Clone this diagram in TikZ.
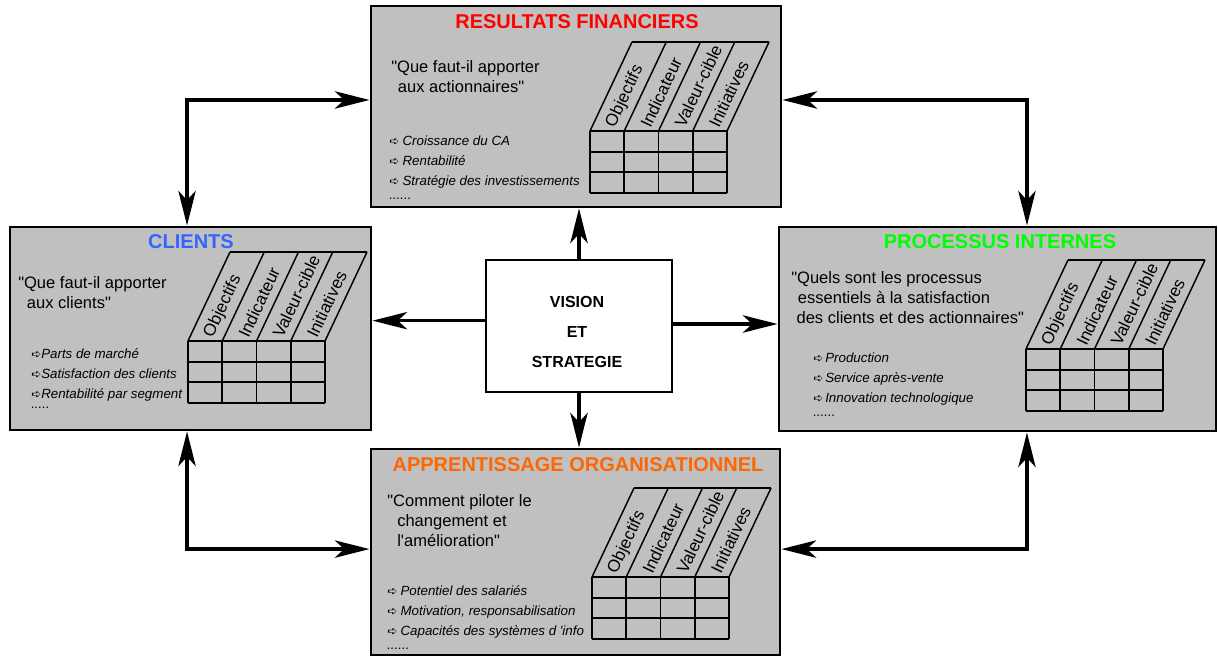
\documentclass[tikz,border=0pt]{standalone}
\usepackage{fontspec}
\setmainfont{Liberation Sans}[Ligatures=TeXOff]
\newfontfamily\symbfont{DejaVu Sans}
\usepackage{tikz}
\usetikzlibrary{arrows.meta,fit}
\definecolor{panel}{HTML}{C0C0C0}
\definecolor{rouge}{HTML}{FF0000}
\definecolor{bleu}{HTML}{3366FF}
\definecolor{vert}{HTML}{00FF00}
\definecolor{orangeapp}{HTML}{FF6600}
\newcommand{\puce}[1][10pt]{\makebox[#1][l]{\upshape\symbfont\fontsize{9}{9}\selectfont ➪}}
\tikzset{
  panel/.style={draw=black, fill=panel, line width=2.2pt, inner sep=0pt},
  vision/.style={draw=black, fill=white, line width=2.2pt, inner sep=0pt},
  titre/.style={font=\bfseries\fontsize{15}{18}\selectfont, inner sep=0pt},
  centre/.style={font=\bfseries\fontsize{12}{22.5}\selectfont, align=center, inner sep=0pt},
  question/.style={font=\fontsize{12.4}{15}\selectfont, align=left, anchor=north west, inner sep=0pt},
  items/.style={font=\itshape\fontsize{10}{15}\selectfont, align=left, anchor=north west, inner sep=0pt},
  entete/.style={font=\fontsize{12.8}{14}\selectfont, rotate=64.7, anchor=west, inner sep=2pt},
  grille/.style={line width=1.4pt},
  biais/.style={line width=1.1pt},
  fleche/.style={line width=2.6pt, -{Stealth[length=26pt,width=13pt,inset=7pt]}},
  liaison/.style={line width=2.6pt, {Stealth[length=26pt,width=13pt,inset=7pt]}-{Stealth[length=26pt,width=13pt,inset=7pt]}}
}
% tableau objectifs / indicateurs, coin haut gauche de la grille en #1,#2
\newcommand{\tableau}[2]{%
  \begin{scope}[shift={(#1,#2)}]
    \foreach \i in {0,...,4}
      \draw[grille] (\i*34.25,0) -- (\i*34.25,62);
    \foreach \j in {0,...,3}
      \draw[grille] (0,\j*20.67) -- (137,\j*20.67);
    \foreach \i in {0,...,4}
      \draw[biais] (\i*34.25,0) -- ++(42,-89);
    \draw[biais] (42,-89) -- (179,-89);
    \foreach \nom [count=\k from 0] in {Objectifs,Indicateur,Valeur-cible,Initiatives}
      \node[entete] at (\k*34.25+19.5,-2) {\nom};
  \end{scope}}

\begin{document}
\begin{tikzpicture}[x=0.75pt,y=-0.75pt]
  \useasboundingbox (0,0) rectangle (1218,657);

  \node[panel, fit={(371,6) (781,207)}] (fin) {};
  \node[panel, fit={(10,227) (371,430)}] (cli) {};
  \node[panel, fit={(779,227) (1216,431)}] (proc) {};
  \node[panel, fit={(371,449) (780,655)}] (app) {};
  \node[vision, fit={(486,260) (672,392)}] (vis) {};
  \node[centre] (vistxt) at (577,332) {VISION\\ET\\STRATEGIE};

  % fleches
  \draw[fleche] (vis.north) -- (vis.north |- fin.south);
  \draw[fleche] (vis.south) -- (vis.south |- app.north);
  \draw[fleche] ([yshift=4pt]vis.west) -- ([yshift=4pt]vis.west -| cli.east);
  \draw[fleche] ([yshift=1.5pt]vis.east) -- ([yshift=1.5pt]vis.east -| proc.west);
  \draw[liaison] ([yshift=4.9pt]fin.west) -| ([xshift=-2.6pt]cli.north);
  \draw[liaison] ([yshift=4.9pt]fin.east) -| ([xshift=22.1pt]proc.north);
  \draw[liaison] ([xshift=-2.6pt]cli.south) |- ([yshift=2.2pt]app.west);
  \draw[liaison] ([xshift=22.1pt]proc.south) |- ([yshift=2.2pt]app.east);

  % resultats financiers
  \node[titre, text=rouge] (fintit) at (577,22) {RESULTATS FINANCIERS};
  \node[question] (finq) at (391,60.5) {"Que faut-il apporter\\\hspace*{5pt}aux actionnaires"};
  \node[items] (finit) at (389,136) {\puce Croissance du CA\\\puce Rentabilité\\\puce Stratégie des investissements\\[-4.5pt]......};
  \tableau{590}{131}

  % clients
  \node[titre, text=bleu] (clitit) at (191,242) {CLIENTS};
  \node[question] (cliq) at (18,276.5) {"Que faut-il apporter\\\hspace*{6.5pt}aux clients"};
  \node[items] (cliit) at (31,348) {\puce[7.5pt]Parts de marché\\\puce[7.5pt]Satisfaction des clients\\\puce[7.5pt]Rentabilité par segment\\[-7.5pt].....};
  \tableau{188}{341}

  % processus internes
  \node[titre, text=vert] (proctit) at (1000,242) {PROCESSUS INTERNES};
  \node[question] (procq) at (791,271.5) {"Quels sont les processus\\\hspace*{5pt}essentiels à la satisfaction\\\hspace*{4pt}des clients et des actionnaires"};
  \node[items] (procit) at (813,353) {\puce[9pt]Production\\\puce[9pt]Service après-vente\\\puce[9pt]Innovation technologique\\[-4.5pt]......};
  \tableau{1026}{349}

  % apprentissage organisationnel
  \node[titre, text=orangeapp] (apptit) at (578,465) {APPRENTISSAGE ORGANISATIONNEL};
  \node[question] (appq) at (387,494.5) {"Comment piloter le\\\hspace*{7.5pt}changement et\\\hspace*{7.5pt}l'amélioration"};
  \node[items] (appit) at (387,585) {\puce Potentiel des salariés\\\puce Motivation, responsabilisation\\\puce Capacités des systèmes d 'info\\[-4.5pt]......};
  \tableau{592}{577}
\end{tikzpicture}
\end{document}
